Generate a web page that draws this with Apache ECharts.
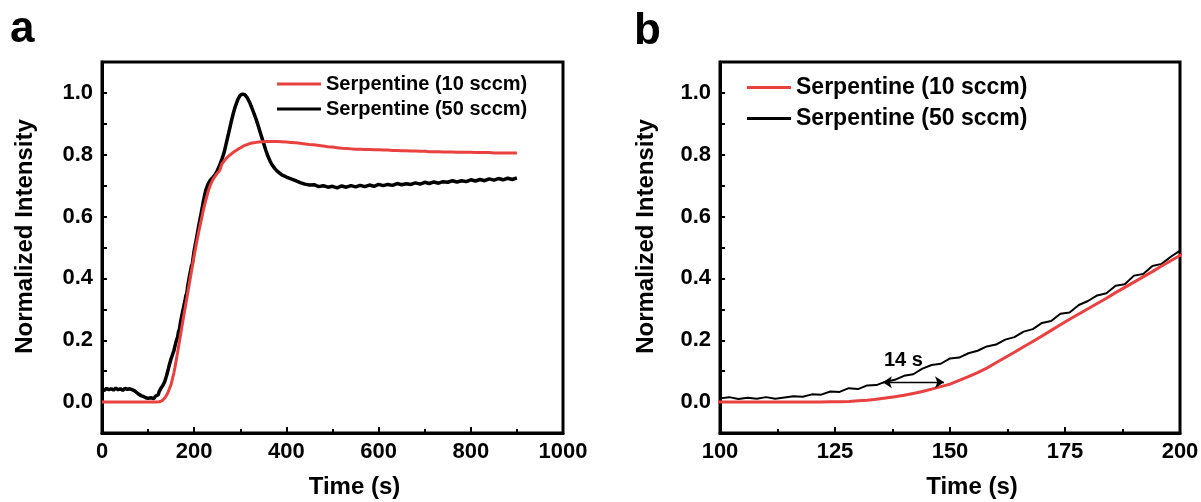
<!DOCTYPE html>
<html>
<head>
<meta charset="utf-8">
<script src="https://cdn.jsdelivr.net/npm/echarts@6/dist/echarts.min.js"></script>
<style>
  html, body { margin: 0; padding: 0; background: #fff; }
  #chart { width: 1201px; height: 502px; }
</style>
</head>
<body>
<div id="chart"></div>
<script>
// time in seconds (coarse at the ends, finer across the 100-200 s window shown in panel b)
var timeS = [
  0, 5, 10, 15, 20, 25, 30, 35, 40, 45, 50, 55, 60, 65, 70, 75, 80, 85, 90, 95,
  100, 102, 104, 106, 108, 110, 112, 114, 116, 118, 120, 122, 124, 126, 128, 130, 132, 134, 136, 138,
  140, 142, 144, 146, 148, 150, 152, 154, 156, 158, 160, 162, 164, 166, 168, 170, 172, 174, 176, 178,
  180, 182, 184, 186, 188, 190, 192, 194, 196, 198, 200,
  205, 210, 215, 220, 225, 230, 235, 240, 245, 250, 255, 260, 265, 270, 275, 280, 285, 290, 295, 300,
  305, 310, 315, 320, 325, 330, 335, 340, 345, 350, 355, 360, 365, 370, 375, 380,
  390, 400,
  410, 420, 430, 440, 450, 460, 470, 480, 490, 500, 510, 520, 530, 540, 550, 560, 570, 580, 590, 600,
  610, 620, 630, 640, 650, 660, 670, 680, 690, 700, 710, 720, 730, 740, 750, 760, 770, 780, 790, 800,
  810, 820, 830, 840, 850, 860, 870, 880, 890, 900
];

// Serpentine (10 sccm)
var red10 = [
  0, 0, 0, 0, 0, 0, 0, 0, 0, 0, 0, 0, 0, 0, 0, 0, 0, 0, 0, 0,
  0, 0, 0, 0, 0, 0, 0, 0, 0, 0, 0, 0, 0.001, 0.001, 0.002, 0.004, 0.006, 0.009, 0.013, 0.017,
  0.022, 0.028, 0.034, 0.042, 0.050, 0.058, 0.070, 0.082, 0.095, 0.110, 0.127, 0.144, 0.161, 0.179, 0.196, 0.214, 0.232, 0.250, 0.268, 0.285,
  0.302, 0.319, 0.336, 0.354, 0.371, 0.388, 0.405, 0.422, 0.440, 0.457, 0.474,
  0.514, 0.552, 0.587, 0.622, 0.652, 0.680, 0.702, 0.718, 0.730, 0.740, 0.748, 0.770, 0.780, 0.789, 0.796, 0.802, 0.808, 0.813, 0.818, 0.822,
  0.827, 0.830, 0.833, 0.836, 0.838, 0.839, 0.840, 0.841, 0.842, 0.842, 0.843, 0.843, 0.843, 0.843, 0.843, 0.843,
  0.842, 0.841,
  0.840, 0.839, 0.837, 0.835, 0.833, 0.832, 0.830, 0.828, 0.826, 0.825, 0.823, 0.821, 0.820, 0.819, 0.818, 0.818, 0.817, 0.817, 0.816, 0.816,
  0.815, 0.815, 0.814, 0.814, 0.813, 0.813, 0.812, 0.812, 0.811, 0.811, 0.810, 0.810, 0.810, 0.809, 0.809, 0.809, 0.808, 0.808, 0.808, 0.808,
  0.807, 0.807, 0.807, 0.807, 0.806, 0.806, 0.806, 0.806, 0.806, 0.806
];

// Serpentine (50 sccm)
var black50 = [
  0.042, 0.038, 0.044, 0.040, 0.043, 0.039, 0.045, 0.040, 0.043, 0.038, 0.044, 0.041, 0.043, 0.040, 0.037, 0.031, 0.025, 0.021, 0.018, 0.014,
  0.012, 0.016, 0.010, 0.014, 0.011, 0.016, 0.011, 0.015, 0.019, 0.017, 0.025, 0.024, 0.034, 0.033, 0.045, 0.042, 0.054, 0.055, 0.066, 0.072,
  0.085, 0.090, 0.108, 0.120, 0.124, 0.141, 0.144, 0.158, 0.166, 0.180, 0.186, 0.202, 0.210, 0.228, 0.236, 0.256, 0.262, 0.286, 0.290, 0.314,
  0.327, 0.345, 0.352, 0.376, 0.381, 0.409, 0.414, 0.440, 0.447, 0.470, 0.490,
  0.530, 0.572, 0.610, 0.650, 0.685, 0.705, 0.718, 0.726, 0.735, 0.748, 0.765, 0.785, 0.808, 0.840, 0.872, 0.905, 0.935, 0.960, 0.980, 0.993,
  0.996, 0.994, 0.985, 0.970, 0.952, 0.932, 0.912, 0.888, 0.864, 0.840, 0.816, 0.795, 0.778, 0.765, 0.755, 0.747,
  0.735, 0.728,
  0.722, 0.716, 0.710, 0.705, 0.702, 0.703, 0.697, 0.700, 0.695, 0.698, 0.693, 0.699, 0.695, 0.700, 0.696, 0.701, 0.697, 0.702, 0.698, 0.704,
  0.700, 0.704, 0.701, 0.707, 0.703, 0.706, 0.704, 0.709, 0.705, 0.711, 0.707, 0.712, 0.708, 0.713, 0.711, 0.716, 0.712, 0.716, 0.713, 0.719,
  0.715, 0.720, 0.716, 0.722, 0.718, 0.723, 0.719, 0.724, 0.720, 0.725
];

var names = ['Serpentine (10 sccm)', 'Serpentine (50 sccm)'];
var xRangeA = [0, 1000, 200];
var xRangeB = [100, 200, 25];
var yRange = [-0.1, 1.1, 0.1];
var delayArrow = [[135.4, 0.064], [148.7, 0.064]];
var delayText = '14 s';

var RED = '#e8413f';
var FONT = '"Liberation Sans", Arial, Helvetica, sans-serif';

function pairs(ys) {
  return timeS.map(function (t, i) { return [t, ys[i]]; });
}

function xAxisOf(idx, range) {
  return {
    gridIndex: idx, type: 'value', min: range[0], max: range[1], interval: range[2],
    name: 'Time (s)', nameLocation: 'middle', nameGap: 42,
    nameTextStyle: { fontFamily: FONT, fontWeight: 'bold', fontSize: 24, color: '#000', padding: [0, 0, 0, 44] },
    axisLine: { show: true, onZero: false, lineStyle: { color: '#000', width: 3 } },
    axisTick: { show: true, inside: true, length: 6, lineStyle: { color: '#000', width: 2 } },
    minorTick: { show: true, splitNumber: 2, length: 4, lineStyle: { color: '#000', width: 2 } },
    axisLabel: {
      margin: 8, fontFamily: FONT, fontWeight: 'bold', fontSize: 22, color: '#000',
      formatter: function (v) { return String(v); }
    },
    splitLine: { show: false }
  };
}

function yAxisOf(idx, gap) {
  return {
    gridIndex: idx, type: 'value', min: yRange[0], max: yRange[1], interval: yRange[2],
    name: 'Normalized Intensity', nameLocation: 'middle', nameGap: gap,
    nameTextStyle: { fontFamily: FONT, fontWeight: 'bold', fontSize: 24, color: '#000', padding: [0, 0, 0, 22] },
    axisLine: { show: true, onZero: false, lineStyle: { color: '#000', width: 3 } },
    axisTick: { show: true, inside: true, length: 5, lineStyle: { color: '#000', width: 2 } },
    axisLabel: {
      margin: 9, fontFamily: FONT, fontWeight: 'bold', fontSize: 22, color: '#000',
      formatter: function (v) { return Math.round(v * 10) % 2 === 0 ? v.toFixed(1) : ''; }
    },
    splitLine: { show: false }
  };
}

function legendOf(left, top, size, lh, gap) {
  return {
    left: left, top: top, orient: 'vertical', padding: 0,
    itemWidth: 44, itemHeight: 3, itemGap: gap, icon: 'rect', selectedMode: false,
    data: names,
    textStyle: { fontFamily: FONT, fontWeight: 'bold', fontSize: size, lineHeight: lh, color: '#000' }
  };
}

var chart = echarts.init(document.getElementById('chart'), null, { renderer: 'canvas' });

var option = {
  animation: false,
  backgroundColor: '#fff',
  grid: [
    { left: 102, top: 62, width: 461, height: 371, show: true, borderColor: '#000', borderWidth: 3, containLabel: false, outerBoundsMode: 'none' },
    { left: 720, top: 62, width: 460, height: 371, show: true, borderColor: '#000', borderWidth: 3, containLabel: false, outerBoundsMode: 'none' }
  ],
  xAxis: [xAxisOf(0, xRangeA), xAxisOf(1, xRangeB)],
  yAxis: [yAxisOf(0, 65), yAxisOf(1, 62)],
  legend: [legendOf(277, 74, 20, 20, 5), legendOf(747, 76, 23, 22, 8)],
  graphic: [
    { type: 'text', left: 10, top: 8, style: { text: 'a', font: 'bold 44px ' + FONT, fill: '#000' } },
    { type: 'text', left: 634, top: 10, style: { text: 'b', font: 'bold 44px ' + FONT, fill: '#000' } }
  ],
  series: [
    {
      name: names[1], type: 'line', xAxisIndex: 0, yAxisIndex: 0, data: pairs(black50),
      symbol: 'none', showSymbol: false, color: '#000', lineStyle: { color: '#000', width: 3.5 }
    },
    {
      name: names[0], type: 'line', xAxisIndex: 0, yAxisIndex: 0, data: pairs(red10),
      symbol: 'none', showSymbol: false, color: RED, lineStyle: { color: RED, width: 3 }
    },
    {
      name: names[1], type: 'line', xAxisIndex: 1, yAxisIndex: 1, data: pairs(black50),
      symbol: 'none', showSymbol: false, clip: true, color: '#000', lineStyle: { color: '#000', width: 2 },
      markLine: {
        silent: true, symbol: ['arrow', 'arrow'], symbolSize: [9, 9], precision: 3,
        lineStyle: { color: '#000', width: 1.3, type: 'solid' },
        label: {
          show: true, position: 'middle', distance: 12, formatter: delayText,
          fontFamily: FONT, fontWeight: 'bold', fontSize: 20, color: '#000', padding: [0, 20, 0, 0]
        },
        data: [[{ coord: delayArrow[0] }, { coord: delayArrow[1] }]]
      }
    },
    {
      name: names[0], type: 'line', xAxisIndex: 1, yAxisIndex: 1, data: pairs(red10),
      symbol: 'none', showSymbol: false, clip: true, color: RED, lineStyle: { color: RED, width: 3 }
    }
  ]
};

chart.setOption(option);
</script>
</body>
</html>
